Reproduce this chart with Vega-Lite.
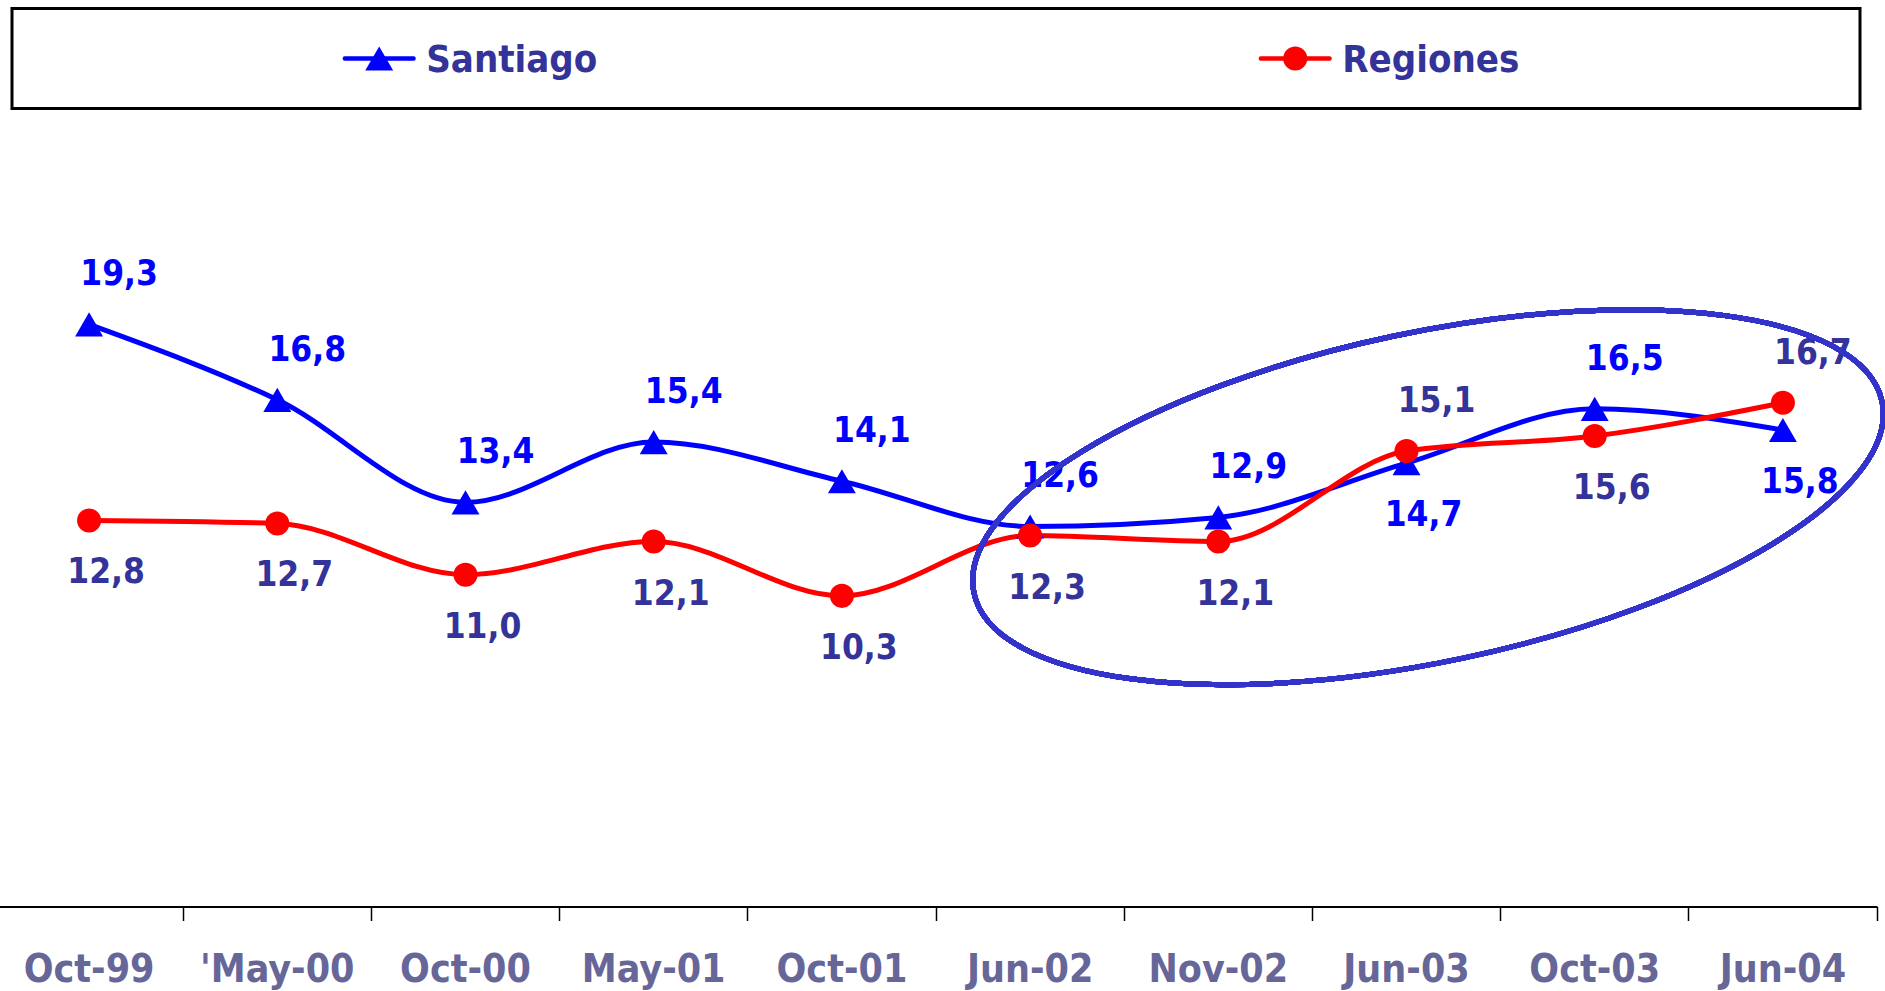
{
  "$schema": "https://vega.github.io/schema/vega-lite/v6.json",
  "padding": {"left": -5, "top": 6.5, "right": 8, "bottom": 0},
  "bounds": "flush",
  "center": true,
  "spacing": 44,
  "config": {
    "view": {"stroke": null},
    "locale": {"number": {"decimal": ",", "thousands": ".", "grouping": [3], "currency": ["", ""]}},
    "font": "DejaVu Sans Condensed, DejaVu Sans"
  },
  "datasets": {
    "series": [{"series": "Santiago"}, {"series": "Regiones"}],
    "desempleo": [
      {"date": "Oct-99", "series": "Santiago", "value": 19.3},
      {"date": "'May-00", "series": "Santiago", "value": 16.8},
      {"date": "Oct-00", "series": "Santiago", "value": 13.4},
      {"date": "May-01", "series": "Santiago", "value": 15.4},
      {"date": "Oct-01", "series": "Santiago", "value": 14.1},
      {"date": "Jun-02", "series": "Santiago", "value": 12.6},
      {"date": "Nov-02", "series": "Santiago", "value": 12.9},
      {"date": "Jun-03", "series": "Santiago", "value": 14.7},
      {"date": "Oct-03", "series": "Santiago", "value": 16.5},
      {"date": "Jun-04", "series": "Santiago", "value": 15.8},
      {"date": "Oct-99", "series": "Regiones", "value": 12.8},
      {"date": "'May-00", "series": "Regiones", "value": 12.7},
      {"date": "Oct-00", "series": "Regiones", "value": 11.0},
      {"date": "May-01", "series": "Regiones", "value": 12.1},
      {"date": "Oct-01", "series": "Regiones", "value": 10.3},
      {"date": "Jun-02", "series": "Regiones", "value": 12.3},
      {"date": "Nov-02", "series": "Regiones", "value": 12.1},
      {"date": "Jun-03", "series": "Regiones", "value": 15.1},
      {"date": "Oct-03", "series": "Regiones", "value": 15.6},
      {"date": "Jun-04", "series": "Regiones", "value": 16.7}
    ]
  },
  "vconcat": [
    {
      "width": 1848,
      "height": 100,
      "view": {"stroke": "black", "strokeWidth": 3},
      "data": {"name": "series"},
      "encoding": {
        "x": {"field": "series", "type": "nominal", "sort": null,
              "scale": {"type": "point", "domain": ["Santiago", "Regiones"], "padding": 0.5087, "align": 0.394},
              "axis": null}
      },
      "layer": [
        {
          "mark": {"type": "tick", "orient": "horizontal", "size": 73, "thickness": 4.5, "cornerRadius": 2, "opacity": 1},
          "encoding": {
            "color": {"field": "series", "type": "nominal", "scale": {"domain": ["Santiago", "Regiones"], "range": ["#0000FF", "#FF0000"]}, "legend": null}
          }
        },
        {
          "mark": {"type": "point", "filled": true, "opacity": 1},
          "encoding": {
            "color": {"field": "series", "type": "nominal", "scale": {"domain": ["Santiago", "Regiones"], "range": ["#0000FF", "#FF0000"]}, "legend": null},
            "shape": {"field": "series", "type": "nominal", "scale": {"domain": ["Santiago", "Regiones"], "range": ["triangle-up", "circle"]}, "legend": null},
            "size": {"field": "series", "type": "nominal", "scale": {"domain": ["Santiago", "Regiones"], "range": [780, 580]}, "legend": null}
          }
        },
        {
          "mark": {"type": "text", "align": "left", "baseline": "middle", "dx": 47, "dy": 2, "fontSize": 38, "fontWeight": "bold", "color": "#333399"},
          "encoding": {"text": {"field": "series", "type": "nominal"}}
        }
      ]
    },
    {
      "width": 1882,
      "height": 754,
      "data": {"name": "desempleo"},
      "encoding": {
        "x": {"field": "date", "type": "ordinal", "sort": null,
              "scale": {"type": "band", "paddingInner": 0, "paddingOuter": 0},
              "axis": {"title": null, "labelAngle": 0, "bandPosition": 1, "grid": false,
                       "domainColor": "black", "domainWidth": 2, "tickColor": "black", "tickWidth": 1.5, "tickSize": 14,
                       "labelFontSize": 39, "labelFontWeight": "bold", "labelColor": "#666699", "labelPadding": 30}},
        "y": {"field": "value", "type": "quantitative", "scale": {"domain": [0, 25]}, "axis": null}
      },
      "layer": [
        {
          "mark": {"type": "line", "strokeWidth": 5, "interpolate": "monotone"},
          "encoding": {
            "color": {"field": "series", "type": "nominal", "scale": {"domain": ["Santiago", "Regiones"], "range": ["#0000FF", "#FF0000"]}, "legend": null}
          }
        },
        {
          "mark": {"type": "point", "filled": true, "opacity": 1},
          "encoding": {
            "color": {"field": "series", "type": "nominal", "scale": {"domain": ["Santiago", "Regiones"], "range": ["#0000FF", "#FF0000"]}, "legend": null},
            "shape": {"field": "series", "type": "nominal", "scale": {"domain": ["Santiago", "Regiones"], "range": ["triangle-up", "circle"]}, "legend": null},
            "size": {"field": "series", "type": "nominal", "scale": {"domain": ["Santiago", "Regiones"], "range": [780, 580]}, "legend": null}
          }
        },
        {
          "transform": [
            {"joinaggregate": [{"op": "max", "field": "value", "as": "maxv"}], "groupby": ["date"]},
            {"filter": "datum.value >= datum.maxv"}
          ],
          "mark": {"type": "text", "align": "center", "baseline": "middle", "dx": 30, "dy": -50, "fontSize": 35, "fontWeight": "bold"},
          "encoding": {
            "text": {"field": "value", "type": "quantitative", "format": ".1f"},
            "color": {"condition": {"test": "datum.series === 'Santiago'", "value": "#0000FF"}, "value": "#333399"}
          }
        },
        {
          "transform": [
            {"joinaggregate": [{"op": "max", "field": "value", "as": "maxv"}], "groupby": ["date"]},
            {"filter": "datum.value < datum.maxv"}
          ],
          "mark": {"type": "text", "align": "center", "baseline": "middle", "dx": 17, "dy": 52, "fontSize": 35, "fontWeight": "bold"},
          "encoding": {
            "text": {"field": "value", "type": "quantitative", "format": ".1f"},
            "color": {"condition": {"test": "datum.series === 'Santiago'", "value": "#0000FF"}, "value": "#333399"}
          }
        },
        {
          "mark": {"type": "point", "shape": "M-1,0C-1,-0.196,-0.5523,-0.355,0,-0.355C0.5523,-0.355,1,-0.196,1,0C1,0.196,0.5523,0.355,0,0.355C-0.5523,0.355,-1,0.196,-1,0Z",
                   "size": 861184, "angle": 348.1, "filled": false, "stroke": "#3333CC", "strokeWidth": 5, "opacity": 1, "xOffset": 21.5},
          "encoding": {"x": {"datum": "Jun-03"}, "y": {"datum": 13.57}}
        }
      ]
    }
  ]
}
